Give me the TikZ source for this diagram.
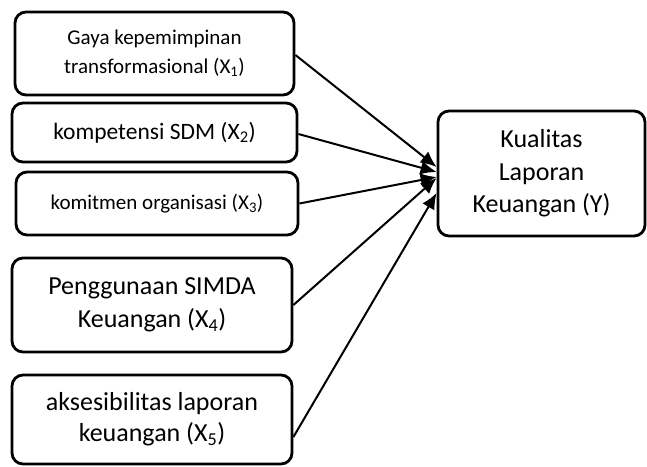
\documentclass[tikz,border=0pt]{standalone}
\usepackage{fontspec}
\setmainfont{Carlito}
\usetikzlibrary{arrows.meta}
\begin{document}
\begin{tikzpicture}[x=1pt,y=-1pt,
  box/.style={draw,line width=2.8pt,rounded corners=11pt,align=center,inner sep=0pt},
  link/.style={line width=2pt,-{Latex[length=16pt,width=14pt]}}]
\useasboundingbox (0,0) rectangle (647,466);
\node[box,minimum width=279pt,minimum height=83pt,font=\fontsize{21}{29}\selectfont] (b1) at (154.5,53.5) {Gaya kepemimpinan\\transformasional (X\textsubscript{1})};
\node[box,minimum width=285pt,minimum height=59pt,font=\fontsize{23.5}{28}\selectfont] (b2) at (154.5,132.5) {kompetensi SDM (X\textsubscript{2})};
\node[box,minimum width=282pt,minimum height=63pt,font=\fontsize{21}{26}\selectfont] (b3) at (157,203.5) {komitmen organisasi (X\textsubscript{3})};
\node[box,minimum width=280pt,minimum height=94pt,font=\fontsize{26}{33}\selectfont] (b4) at (152,305) {Penggunaan SIMDA\\Keuangan (X\textsubscript{4})};
\node[box,minimum width=280pt,minimum height=89pt,font=\fontsize{26}{31}\selectfont] (b5) at (152,419.5) {aksesibilitas laporan\\keuangan (X\textsubscript{5})};
\node[box,minimum width=207pt,minimum height=125pt,font=\fontsize{26}{32.5}\selectfont] (y) at (541.5,173.5) {Kualitas\\Laporan\\Keuangan (Y)};
\draw[link] ([yshift=-1.5pt]b1.east) -- ([yshift=6.5pt]y.west);
\draw[link] ([yshift=-1.5pt]b2.east) -- ([yshift=1.5pt]y.west);
\draw[link] (b3.east) -- ([yshift=-3.5pt]y.west);
\draw[link] (b4.east) -- ([yshift=-4.5pt]y.west);
\draw[link] ([yshift=-17.5pt]b5.east) -- ([yshift=-19.5pt]y.west);
\end{tikzpicture}
\end{document}
